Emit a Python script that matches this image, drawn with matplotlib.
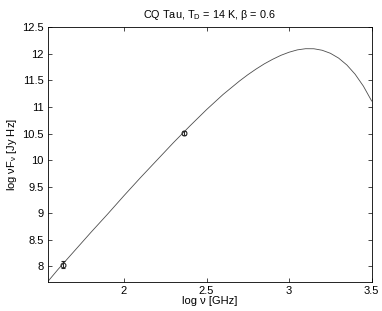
import numpy as np
import matplotlib
matplotlib.use("Agg")
import matplotlib.pyplot as plt

plt.rcParams["font.family"] = ["Liberation Sans", "DejaVu Sans"]
plt.rcParams["mathtext.fontset"] = "custom"
plt.rcParams["mathtext.rm"] = "Liberation Sans"
plt.rcParams["mathtext.it"] = "Liberation Sans"

# modified blackbody curve
curve_x = [1.538, 1.6, 1.7, 1.8, 1.9, 2.0, 2.1, 2.2, 2.3, 2.4, 2.5, 2.6, 2.7,
           2.75, 2.8, 2.85, 2.9, 2.95, 3.0, 3.05, 3.1, 3.15, 3.2, 3.25, 3.3,
           3.35, 3.4, 3.45, 3.5]
curve_y = [7.71, 7.94, 8.29, 8.64, 8.98, 9.33, 9.67, 10.00, 10.33, 10.645,
           10.95, 11.235, 11.49, 11.607, 11.714, 11.812, 11.897, 11.972,
           12.031, 12.075, 12.097, 12.096, 12.068, 12.011, 11.92, 11.79,
           11.616, 11.392, 11.113]

# measured points with error bars
obs_x = [1.628, 2.365]
obs_y = [8.03, 10.51]
obs_err = [0.07, 0.03]

xticks = [2, 2.5, 3, 3.5]
yticks = [8, 8.5, 9, 9.5, 10, 10.5, 11, 11.5, 12, 12.5]

fig = plt.figure(figsize=(3.82, 3.11), dpi=100)
ax = fig.add_axes([0.1249, 0.0942, 0.848, 0.818])

ax.plot(curve_x, curve_y, color="0.3", lw=0.6)
ax.errorbar(obs_x, obs_y, yerr=obs_err, fmt="o", ms=3.5, mfc="none",
            mec="0.15", mew=0.8, ecolor="0.15", elinewidth=0.7, capsize=1.2)

ax.set_xlim(curve_x[0], 3.5)
ax.set_ylim(curve_y[0], 12.5)
ax.set_xticks(xticks)
ax.set_xticklabels([f"{t:g}" for t in xticks])
ax.set_yticks(yticks)
ax.set_yticklabels([f"{t:g}" for t in yticks])
ax.tick_params(direction="in", length=3, width=0.5, top=True, right=True,
               labelsize=8, pad=3)
for s in ax.spines.values():
    s.set_linewidth(0.6)

ax.set_xlabel("log ν [GHz]", fontsize=8, labelpad=0)
ax.set_ylabel(r"log νF$_\mathregular{ν}$ [Jy Hz]", fontsize=8, labelpad=2)
ax.set_title(r"CQ Tau, T$_\mathregular{D}$ = 14 K, β = 0.6", fontsize=7.8, pad=7)

fig.savefig("out.png", dpi=100)
